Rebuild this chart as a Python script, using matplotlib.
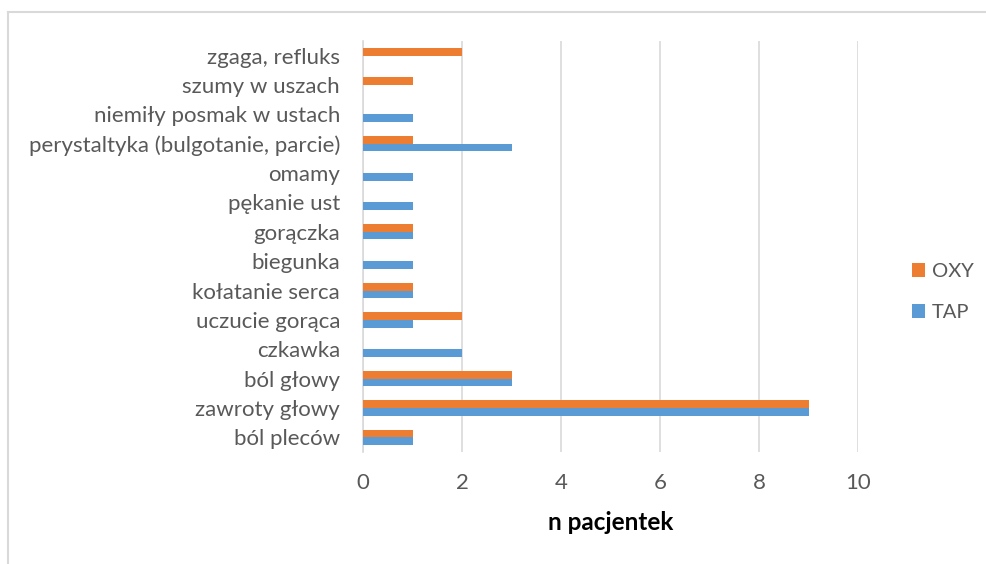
import matplotlib
matplotlib.use("Agg")
import matplotlib.pyplot as plt
import numpy as np

categories = [
    "ból pleców", "zawroty głowy", "ból głowy", "czkawka", "uczucie gorąca",
    "kołatanie serca", "biegunka", "gorączka", "pękanie ust", "omamy",
    "perystaltyka (bulgotanie, parcie)", "niemiły posmak w ustach",
    "szumy w uszach", "zgaga, refluks",
]
tap = [1, 9, 3, 2, 1, 1, 1, 1, 1, 1, 3, 1, 0, 0]
oxy = [1, 9, 3, 0, 2, 1, 0, 1, 0, 0, 1, 0, 1, 2]
x_ticks = [0, 2, 4, 6, 8, 10]

plt.rcParams["font.family"] = ["Lato", "DejaVu Sans"]
grey = "#595959"

W, H = 986, 564
fig = plt.figure(figsize=(W / 100, H / 100), dpi=100)
ax = fig.add_axes([363 / W, 1 - 452 / H, (858 - 363) / W, (452 - 41) / H])

y = np.arange(len(categories))
h = 0.26
ax.barh(y - h / 2, tap, height=h, color="#5B9BD5", label="TAP", zorder=3)
ax.barh(y + h / 2, oxy, height=h, color="#ED7D31", label="OXY", zorder=3)

ax.set_xlim(0, 10)
ax.set_ylim(-0.5, len(categories) - 0.5)
ax.set_xticks(x_ticks)
ax.set_xticklabels([str(t) for t in x_ticks])
ax.set_yticks(y)
ax.set_yticklabels(categories)
ax.tick_params(axis="both", length=0, colors=grey, labelsize=16)
ax.tick_params(axis="y", pad=16.5)
ax.tick_params(axis="x", pad=15)
ax.grid(axis="x", color="#D9D9D9", linewidth=1.2, zorder=0)
for s in ["top", "right", "bottom"]:
    ax.spines[s].set_visible(False)
ax.spines["left"].set_color("#D9D9D9")
ax.spines["left"].set_linewidth(1.2)

ax.set_xlabel("n pacjentek", fontsize=17.5, fontweight="bold", color="black", labelpad=13)

handles, labels = ax.get_legend_handles_labels()
fig.legend(handles[::-1], labels[::-1], loc="center left",
           bbox_to_anchor=(902 / W, 1 - 292 / H), frameon=False,
           fontsize=14.5, labelcolor=grey, handlelength=0.65, handleheight=0.65,
           handletextpad=0.35, labelspacing=1.2, borderpad=0)

# chart frame (top and left edges)
fig.add_artist(plt.Line2D([8 / W, 1], [1 - 12 / H, 1 - 12 / H], color="#D9D9D9", lw=1.5))
fig.add_artist(plt.Line2D([8 / W, 8 / W], [0, 1 - 12 / H], color="#D9D9D9", lw=1.5))

fig.savefig("out.png", dpi=100)
